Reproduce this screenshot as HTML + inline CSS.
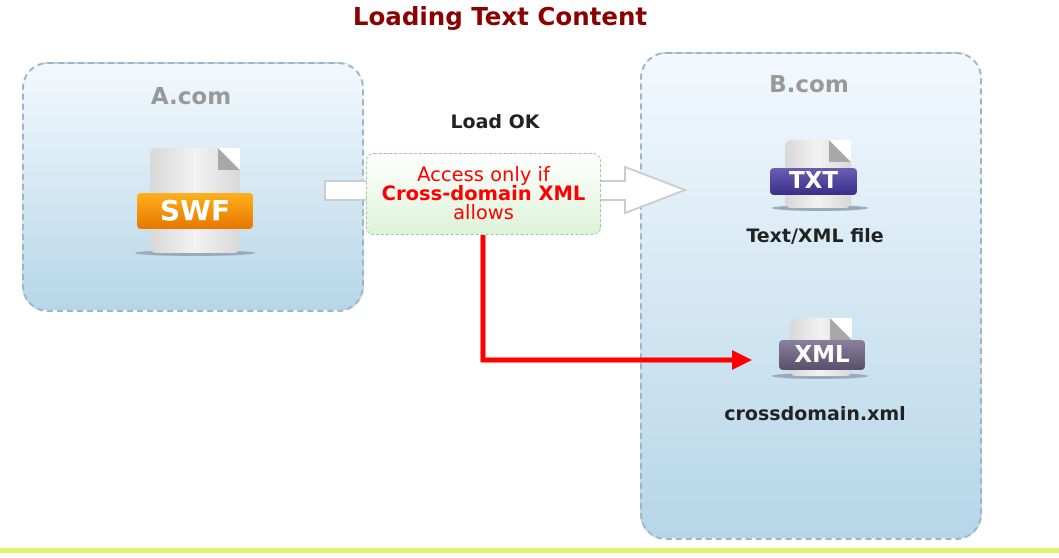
<!DOCTYPE html>
<html><head><style>
body{margin:0;width:1059px;height:558px;background:#fff;position:relative;overflow:hidden;font-family:"DejaVu Sans","Liberation Sans",sans-serif}
.a{position:absolute}
.box{position:absolute;border:2px dashed #9fb4c4;border-radius:26px;background:linear-gradient(#f3f9fe,#b6d6e8)}
.lbl{position:absolute;font-weight:bold;text-align:center;white-space:nowrap}
.page{position:absolute;background:linear-gradient(90deg,#d8d8d8,#f2f2f2 50%,#d8d8d8);border-radius:6px}
.fold{position:absolute;right:0;top:0;width:0;height:0;border-left:22px solid #a8a8a8;border-top:22px solid #fff}
.tag{position:absolute;border-radius:4px;color:#fff;font-weight:bold;text-align:center}
</style></head><body>
<div class="lbl" style="left:250px;top:2px;width:500px;color:#8b0000;font-size:24.5px">Loading Text Content</div>
<div class="box" style="left:22px;top:62px;width:338px;height:246px"></div>
<div class="box" style="left:640px;top:52px;width:338px;height:484px"></div>
<div class="lbl" style="left:22px;top:84px;width:338px;color:#999;font-size:23px">A.com</div>
<div class="lbl" style="left:640px;top:72px;width:338px;color:#999;font-size:23px">B.com</div>
<div class="lbl" style="left:395px;top:111px;width:200px;color:#222;font-size:19px">Load OK</div>
<svg class="a" style="left:0;top:0" width="1059" height="558">
<polygon points="325,181 625,181 625,167 685,190 625,213 625,200 325,200" fill="#fff" stroke="#ccc" stroke-width="2"/>
<polyline points="483,235 483,360 735,360" fill="none" stroke="#f00" stroke-width="5"/>
<polygon points="732,350 752,360 732,370" fill="#f00"/>
<ellipse cx="195" cy="253" rx="60" ry="3" fill="#9ab"/>
<ellipse cx="820" cy="208" rx="48" ry="3" fill="#9ab"/>
<ellipse cx="820" cy="376" rx="48" ry="3" fill="#9ab"/>
</svg>
<div class="a" style="left:366px;top:153px;width:235px;height:82px;border:1.5px dashed #9c9;border-radius:8px;background:linear-gradient(#fff,#ddf3d8);color:#f00;text-align:center;font-size:19.5px;line-height:19px;padding-top:11px;box-sizing:border-box;white-space:nowrap">Access only if<br><b>Cross-domain XML</b><br>allows</div>
<div class="page" style="left:150px;top:148px;width:90px;height:105px"><div class="fold"></div></div>
<div class="tag" style="left:137px;top:193px;width:116px;height:36px;background:linear-gradient(#ffb11c,#e67700);font-size:28px;line-height:36px">SWF</div>
<div class="page" style="left:785px;top:140px;width:66px;height:68px"><div class="fold"></div></div>
<div class="tag" style="left:770px;top:168px;width:87px;height:27px;background:linear-gradient(#6a5fb5,#3a2e86);font-size:23px;line-height:27px">TXT</div>
<div class="lbl" style="left:700px;top:225px;width:230px;color:#222;font-size:19px">Text/XML file</div>
<div class="page" style="left:790px;top:318px;width:62px;height:58px"><div class="fold"></div></div>
<div class="tag" style="left:779px;top:340px;width:86px;height:30px;background:linear-gradient(#8a819e,#57506b);font-size:23px;line-height:30px">XML</div>
<div class="lbl" style="left:700px;top:403px;width:230px;color:#222;font-size:19px">crossdomain.xml</div>
<div class="a" style="left:0;top:548px;width:1059px;height:5px;background:#d9f56a"></div>
</body></html>
